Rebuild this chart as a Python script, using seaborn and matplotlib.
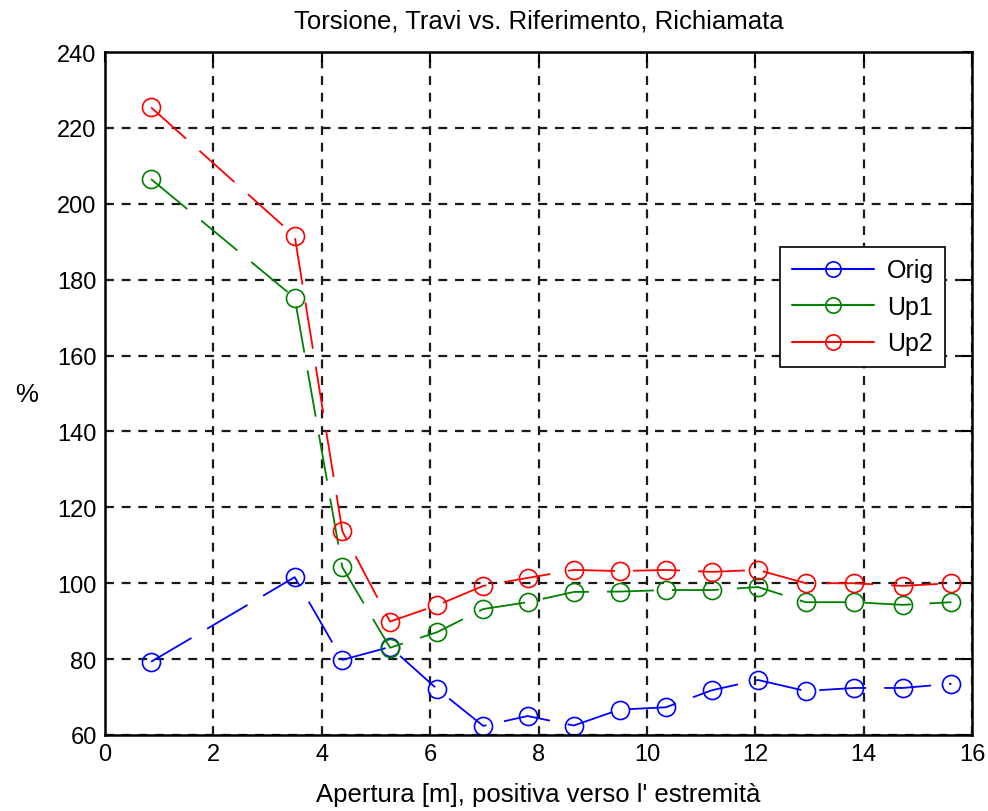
import matplotlib
matplotlib.use("Agg")
import matplotlib.pyplot as plt
from matplotlib.lines import Line2D
import seaborn as sns
import pandas as pd

# Span positions along the beam [m]
apertura = [0.85, 3.50, 4.38, 5.26, 6.13, 6.98, 7.80, 8.65, 9.50, 10.35,
            11.20, 12.05, 12.93, 13.83, 14.72, 15.62]

# Torsion ratio versus reference [%]
orig = [79.3, 101.6, 79.8, 83.2, 72.1, 62.4, 65.0, 62.5, 66.7, 67.3,
        71.8, 74.5, 71.6, 72.4, 72.4, 73.5]
up1 = [206.5, 175.2, 104.2, 83.0, 87.1, 93.2, 95.0, 97.7, 97.8, 98.2,
       98.2, 99.0, 95.0, 95.0, 94.3, 95.0]
up2 = [225.4, 191.5, 113.7, 89.9, 94.2, 99.3, 101.4, 103.5, 103.2, 103.5,
       103.0, 103.5, 100.0, 100.0, 99.3, 100.0]

series_names = ["Orig", "Up1", "Up2"]
series_colors = ["#0000ff", "#008000", "#ff0000"]

x_ticks = list(range(0, 17, 2))
y_ticks = list(range(60, 241, 20))

sns.set_theme(style="white")
plt.rcParams["font.family"] = ["Liberation Sans", "DejaVu Sans"]
plt.rcParams["text.color"] = "black"
plt.rcParams["axes.labelcolor"] = "black"

fig = plt.figure(figsize=(9.88, 8.12), dpi=100)
ax = fig.add_axes([0.1063, 0.0936, 0.8775, 0.8411])

df = pd.DataFrame({"x": apertura * 3,
                   "y": orig + up1 + up2,
                   "serie": [n for n in series_names for _ in apertura]})

for name, color in zip(series_names, series_colors):
    sub = df[df["serie"] == name]
    sns.lineplot(data=sub, x="x", y="y", ax=ax, color=color, sort=False,
                 estimator=None, marker="o", markersize=13,
                 markerfacecolor="none", markeredgecolor=color,
                 markeredgewidth=1.2, linewidth=1.3,
                 linestyle=(0, (26, 10)), legend=False)

ax.set_xlim(0, 16)
ax.set_ylim(60, 240)
ax.set_xticks(x_ticks)
ax.set_yticks(y_ticks)
ax.tick_params(direction="in", length=7, width=1.5, top=True, right=True,
               labelsize=17, colors="black", pad=6)
ax.grid(True, color="#1a1a1a", linestyle=(0, (4, 3.5)), linewidth=1.6)
for sp in ax.spines.values():
    sp.set_color("black")
    sp.set_linewidth(1.8)

ax.set_title("Torsione, Travi vs. Riferimento, Richiamata", fontsize=18.5,
             pad=18, color="black")
ax.set_xlabel("Apertura [m], positiva verso l' estremità", fontsize=18.5,
              labelpad=12)
ax.set_ylabel("%", fontsize=18.5, labelpad=22, rotation=0, va="center")

handles = [Line2D([], [], color=c, linewidth=1.5, marker="o", markersize=11,
                  markerfacecolor="none", markeredgecolor=c, markeredgewidth=1.2)
           for c in series_colors]
leg = ax.legend(handles, series_names, loc="upper left",
                bbox_to_anchor=(0.779, 0.7145), borderaxespad=0,
                fontsize=18, handlelength=3.3, frameon=True, fancybox=False,
                framealpha=1, edgecolor="black", labelspacing=0.5,
                borderpad=0.45, handletextpad=0.5)
leg.get_frame().set_linewidth(1.2)

fig.savefig("out.png", dpi=100, facecolor="white")
